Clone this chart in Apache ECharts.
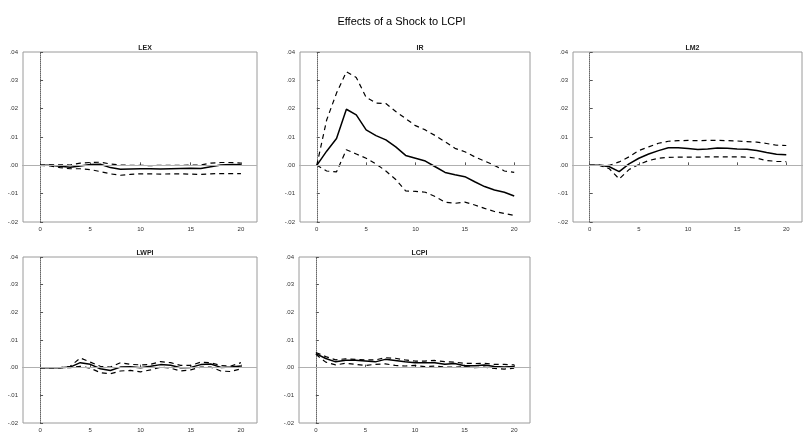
<!DOCTYPE html>
<html>
<head>
<meta charset="utf-8">
<script src="https://cdn.jsdelivr.net/npm/echarts@6/dist/echarts.min.js"></script>
<style>
  html, body { margin: 0; padding: 0; background: #fff; }
  #chart { width: 803px; height: 433px; }
</style>
</head>
<body>
<div id="chart"></div>
<script>
// horizon (periods) and tick labels
var periods = [0, 1, 2, 3, 4, 5, 6, 7, 8, 9, 10, 11, 12, 13, 14, 15, 16, 17, 18, 19, 20];
var xTicks = [0, 5, 10, 15, 20];
var panelNames = ['LEX', 'IR', 'LM2', 'LWPI', 'LCPI'];

// response, +2 s.e., -2 s.e.
var lexResp  = [0, 0, -0.0003, -0.0007, -0.0002, 0.0003, 0.0004, -0.0008, -0.0014, -0.0013, -0.0012, -0.0012, -0.0013, -0.0012, -0.0011, -0.0010, -0.0011, -0.0005, 0.0001, 0.0003, 0.0002];
var lexUp    = [0, 0.0002, 0.0002, 0.0001, 0.0008, 0.0010, 0.0011, 0.0005, 0.0001, 0.0000, 0.0000, -0.0001, 0.0000, 0.0000, 0.0000, 0.0001, 0.0001, 0.0008, 0.0010, 0.0010, 0.0008];
var lexLow   = [0, -0.0002, -0.0008, -0.0012, -0.0012, -0.0015, -0.0022, -0.0030, -0.0035, -0.0032, -0.0030, -0.0030, -0.0031, -0.0030, -0.0030, -0.0031, -0.0032, -0.0030, -0.0029, -0.0029, -0.0029];

var irResp   = [0, 0.005, 0.0095, 0.0198, 0.0178, 0.0125, 0.0105, 0.009, 0.0065, 0.0035, 0.0025, 0.0015, -0.0005, -0.0025, -0.0033, -0.004, -0.0058, -0.0075, -0.0087, -0.0095, -0.0108];
var irUp     = [0, 0.016, 0.0255, 0.033, 0.031, 0.024, 0.022, 0.0218, 0.019, 0.0165, 0.014, 0.0125, 0.0105, 0.0083, 0.006, 0.0048, 0.003, 0.0015, 0.0, -0.002, -0.0025];
var irLow    = [0, -0.002, -0.0023, 0.0055, 0.004, 0.0025, 0.0005, -0.002, -0.005, -0.009, -0.0092, -0.0095, -0.011, -0.013, -0.0134, -0.013, -0.014, -0.0152, -0.0163, -0.017, -0.0177];

var m2Resp   = [0, 0, -0.0005, -0.0022, 0.0005, 0.0025, 0.004, 0.0052, 0.0062, 0.0062, 0.0059, 0.0056, 0.0058, 0.0061, 0.006, 0.0058, 0.0057, 0.0052, 0.0045, 0.0039, 0.0037];
var m2Up     = [0, 0, 0, 0.0012, 0.003, 0.0052, 0.0065, 0.0078, 0.0085, 0.0087, 0.0088, 0.0087, 0.0088, 0.0088, 0.0087, 0.0086, 0.0084, 0.0082, 0.0077, 0.0071, 0.007];
var m2Low    = [0, 0, -0.0012, -0.0048, -0.0015, 0.0003, 0.0017, 0.0025, 0.0028, 0.0029, 0.0029, 0.0029, 0.003, 0.003, 0.003, 0.003, 0.0029, 0.0025, 0.0017, 0.0014, 0.0013];

var wpiResp  = [0, 0, 0, 0.0002, 0.0018, 0.0012, -0.0004, -0.001, 0.0002, 0.0003, 0, 0.0005, 0.0011, 0.0009, 0, 0.0001, 0.0011, 0.0013, 0.0001, 0.0002, 0.0006];
var wpiUp    = [0, 0, 0, 0.0005, 0.0035, 0.002, 0.0005, 0.0002, 0.0018, 0.0012, 0.001, 0.0012, 0.0022, 0.0018, 0.0008, 0.0008, 0.002, 0.0018, 0.0008, 0.0006, 0.0018];
var wpiLow   = [0, 0, 0, 0, 0.0005, -0.0002, -0.0018, -0.0022, -0.0012, -0.001, -0.0015, -0.0008, 0.0002, -0.0002, -0.0012, -0.0008, 0.0002, 0.0002, -0.0012, -0.0014, -0.0004];

var cpiResp  = [0.0051, 0.0033, 0.0021, 0.0027, 0.0027, 0.0024, 0.0021, 0.003, 0.0026, 0.0021, 0.0018, 0.0018, 0.0018, 0.0012, 0.0015, 0.0007, 0.0007, 0.001, 0.0004, 0.0002, 0.0004];
var cpiUp    = [0.0055, 0.004, 0.0028, 0.0032, 0.003, 0.0028, 0.0028, 0.0036, 0.0034, 0.0028, 0.0024, 0.0024, 0.0026, 0.0022, 0.002, 0.0016, 0.0015, 0.0016, 0.0012, 0.0012, 0.001];
var cpiLow   = [0.0048, 0.002, 0.001, 0.0016, 0.0012, 0.0008, 0.0012, 0.0014, 0.0008, 0.0006, 0.0008, 0.0004, 0.0006, 0.0002, 0.0002, 0.0004, 0, 0.0002, -0.0003, -0.0005, -0.0002];

var panels = [
  [lexResp, lexUp, lexLow],
  [irResp, irUp, irLow],
  [m2Resp, m2Up, m2Low],
  [wpiResp, wpiUp, wpiLow],
  [cpiResp, cpiUp, cpiLow]
];

// frame boxes of the five panels
var boxes = [
  { left: 23, top: 52, width: 234, height: 170 },
  { left: 300, top: 52, width: 230, height: 170 },
  { left: 573, top: 52, width: 229, height: 170 },
  { left: 23, top: 257, width: 234, height: 168 },
  { left: 299, top: 257, width: 231, height: 168 }
];

function fmt(v) {
  var s = Math.abs(v).toFixed(2).replace(/^0/, '');
  return (v < 0 ? '-' : '') + s;
}

function pairs(vals) {
  return periods.map(function (p, i) { return [p, vals[i]]; });
}

var grids = [], xAxes = [], yAxes = [], series = [], titles = [];

boxes.forEach(function (b, i) {
  grids.push({ left: b.left, top: b.top, width: b.width, height: b.height,
    show: true, borderColor: '#9a9a9a', borderWidth: 1, backgroundColor: '#fff' });

  titles.push({ text: panelNames[i], left: b.left + b.width / 2, top: b.top - 12,
    textAlign: 'center',
    textStyle: { fontSize: 7, fontWeight: 'bold', color: '#222', fontFamily: 'Arial' } });

  xAxes.push({
    type: 'value', gridIndex: i, min: -1.7, max: 21.6,
    splitLine: { show: false },
    axisLine: { lineStyle: { color: '#888', type: 'dotted' } },
    axisTick: { customValues: xTicks, inside: true, length: 3, lineStyle: { color: '#555' } },
    axisLabel: { customValues: xTicks, fontSize: 6, color: '#333', margin: 4 }
  });

  yAxes.push({
    type: 'value', gridIndex: i, min: -0.02, max: 0.04, interval: 0.01,
    splitLine: { show: false },
    axisLine: { show: true, lineStyle: { color: '#666', type: 'dotted' } },
    axisTick: { inside: true, length: 3, lineStyle: { color: '#555' } },
    axisLabel: { fontSize: 6, color: '#333', margin: 5, formatter: fmt }
  });

  var d = panels[i];
  series.push({
    type: 'line', xAxisIndex: i, yAxisIndex: i, data: pairs(d[0]),
    symbol: 'none', smooth: false,
    lineStyle: { color: '#000', width: 1.5 },
    markLine: {
      silent: true, symbol: 'none', label: { show: false },
      lineStyle: { color: '#b0b0b0', width: 1, type: 'solid' },
      data: [{ yAxis: 0 }]
    },
    z: 3
  });
  [d[1], d[2]].forEach(function (band) {
    series.push({
      type: 'line', xAxisIndex: i, yAxisIndex: i, data: pairs(band),
      symbol: 'none',
      lineStyle: { color: '#000', width: 1.2, type: [5, 4] },
      z: 2
    });
  });
});

titles.unshift({
  text: 'Effects of a Shock to LCPI', left: 'center', top: 11,
  textStyle: { fontSize: 11, fontWeight: 'normal', color: '#000', fontFamily: 'Arial' }
});

var chart = echarts.init(document.getElementById('chart'), null, { renderer: 'canvas' });
chart.setOption({
  animation: false,
  backgroundColor: '#fff',
  title: titles,
  grid: grids,
  xAxis: xAxes,
  yAxis: yAxes,
  series: series
});
</script>
</body>
</html>
